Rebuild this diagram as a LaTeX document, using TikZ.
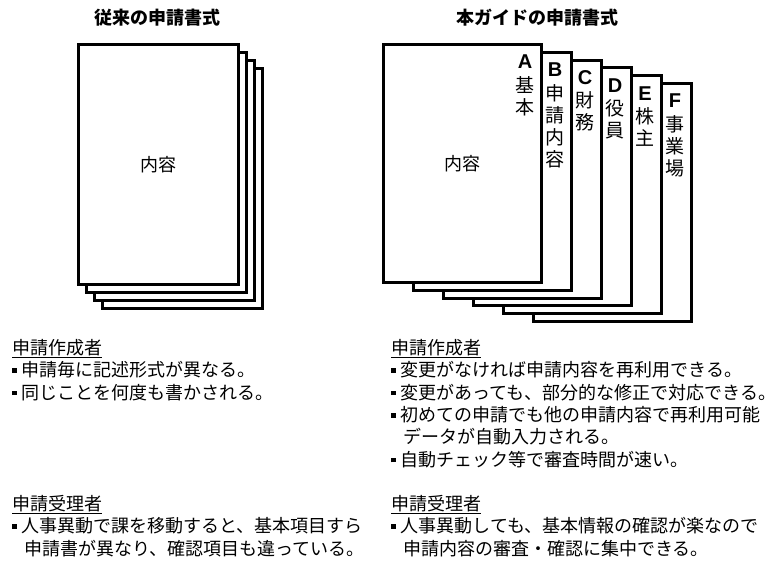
\documentclass[tikz,border=0pt]{standalone}
\usepackage{fontspec}
\setmainfont{Noto Sans CJK JP}
\newfontfamily\latinfont{Liberation Sans}
\newcommand{\bul}{\rule[4pt]{4.5pt}{4.5pt}\hspace{5pt}}
\newcommand{\bulgap}{\hspace*{12pt}}
\begin{document}
\begin{tikzpicture}[
        x=1pt, y=-1pt,
        every node/.style={font=\fontsize{18}{22.4}\selectfont},
        sheet/.style={draw, fill=white, line width=3pt, anchor=north west,
            minimum width=158pt, minimum height=238pt, inner sep=0pt},
        tabletter/.style={font=\latinfont\bfseries\fontsize{20}{20}\selectfont, inner sep=0pt},
        tabtext/.style={align=center, inner sep=0pt, anchor=north,
            font=\fontsize{19}{22}\selectfont},
        heading/.style={font=\bfseries\fontsize{18}{18}\selectfont, inner sep=0pt},
        notes/.style={anchor=north west, align=left, inner sep=0pt}
    ]
    \useasboundingbox (0,0) rectangle (776,571);

    % old form
    \node[heading] (oldtitle) at (157,18) {従来の申請書式};
    \foreach \i in {3,2,1}
        \node[sheet, minimum width=160pt, minimum height=240pt] (old\i) at ({77+8*\i},{43+8*\i}) {};
    \node[sheet, minimum width=160pt, minimum height=240pt] (old0) at (77,43) {内容};

    % new form
    \node[heading] (newtitle) at (537,18) {本ガイドの申請書式};
    \foreach \k/\tab/\name in {5/F/{事\\業\\場}, 4/E/{株\\主}, 3/D/{役\\員}, 2/C/{財\\務}, 1/B/{申\\請\\内\\容}} {
        \node[sheet] (new\tab) at ({382+30*\k},{43+7.8*\k}) {};
        \node[tabletter] (let\tab) at ([xshift=-18pt, yshift=-19pt]new\tab.north east) {\tab};
        \node[tabtext] (txt\tab) at ([yshift=-7pt]let\tab.south) {\name};
    }
    \node[sheet] (newA) at (382,43) {内容};
    \node[tabletter] (letA) at ([xshift=-18pt, yshift=-19pt]newA.north east) {A};
    \node[tabtext] (txtA) at ([yshift=-7pt]letA.south) {基\\本};

    % notes
    \node[notes] (oldmaker) at (12,339)
        {\underline{申請作成者}\\
         \bul 申請毎に記述形式が異なる。\\
         \bul 同じことを何度も書かされる。};
    \node[notes] (oldreceiver) at (12,495)
        {\underline{申請受理者}\\
         \bul 人事異動で課を移動すると、基本項目すら\\
         \bulgap 申請書が異なり、確認項目も違っている。};
    \node[notes] (newmaker) at (391,339)
        {\underline{申請作成者}\\
         \bul 変更がなければ申請内容を再利用できる。\\
         \bul 変更があっても、部分的な修正で対応できる。\\
         \bul 初めての申請でも他の申請内容で再利用可能\\
         \bulgap データが自動入力される。\\
         \bul 自動チェック等で審査時間が速い。};
    \node[notes] (newreceiver) at (391,495)
        {\underline{申請受理者}\\
         \bul 人事異動しても、基本情報の確認が楽なので\\
         \bulgap 申請内容の審査・確認に集中できる。};
\end{tikzpicture}
\end{document}
